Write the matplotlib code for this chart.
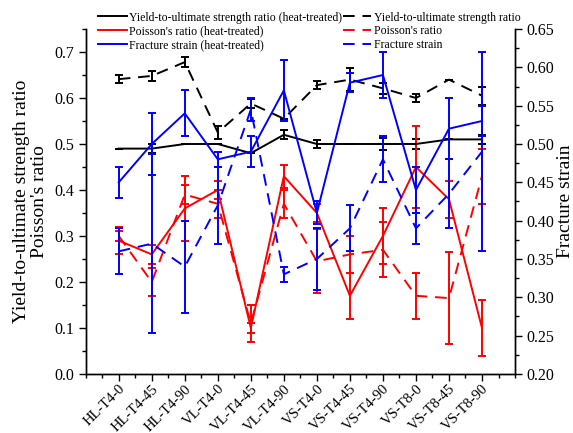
import matplotlib
matplotlib.use('Agg')
from matplotlib import pyplot as plt
from matplotlib.lines import Line2D
from matplotlib.ticker import MultipleLocator
import numpy as np

plt.rcParams['font.family'] = ['Liberation Serif', 'DejaVu Serif']

categories = ['HL-T4-0', 'HL-T4-45', 'HL-T4-90', 'VL-T4-0', 'VL-T4-45', 'VL-T4-90',
              'VS-T4-0', 'VS-T4-45', 'VS-T4-90', 'VS-T8-0', 'VS-T8-45', 'VS-T8-90']

# yield-to-ultimate strength ratio
yr_ht = [0.49, 0.49, 0.50, 0.50, 0.48, 0.52, 0.50, 0.50, 0.50, 0.50, 0.51, 0.51]
yr_ht_err = [0.0, 0.01, 0.0, 0.0, 0.0, 0.01, 0.009, 0.0, 0.012, 0.01, 0.0, 0.01]
yr_ab = [0.641, 0.648, 0.678, 0.525, 0.588, 0.555, 0.628, 0.64, 0.621, 0.60, 0.64, 0.605]
yr_ab_err = [0.008, 0.01, 0.011, 0.015, 0.01, 0.0, 0.009, 0.025, 0.012, 0.008, 0.0, 0.02]

# Poisson's ratio
pr_ht = [0.29, 0.26, 0.36, 0.40, 0.10, 0.43, 0.35, 0.17, 0.30, 0.45, 0.38, 0.10]
pr_ht_err = [0.03, 0.02, 0.07, 0.02, 0.01, 0.025, 0.02, 0.05, 0.06, 0.09, 0.04, 0.06]
pr_ab = [0.30, 0.20, 0.39, 0.37, 0.11, 0.37, 0.245, 0.26, 0.27, 0.17, 0.165, 0.43]
pr_ab_err = [0.01, 0.03, 0.02, 0.03, 0.04, 0.03, 0.07, 0.04, 0.06, 0.05, 0.10, 0.06]

# fracture strain (right axis)
fs_ht = [0.45, 0.50, 0.54, 0.48, 0.49, 0.57, 0.41, 0.58, 0.59, 0.44, 0.52, 0.53]
fs_ht_err = [0.02, 0.04, 0.03, 0.01, 0.02, 0.04, 0.015, 0.012, 0.03, 0.03, 0.04, 0.02]
fs_ab = [0.36, 0.37, 0.34, 0.42, 0.545, 0.33, 0.35, 0.39, 0.48, 0.39, 0.435, 0.49]
fs_ab_err = [0.03, 0.117, 0.06, 0.05, 0.015, 0.01, 0.04, 0.03, 0.03, 0.02, 0.045, 0.13]

x = np.arange(1, len(categories) + 1)
lw = 1.4
dash = (6, 4)

fig = plt.figure(figsize=(5.73, 4.33), dpi=100)
ax = fig.add_axes([0.1496, 0.1363, 0.7492, 0.7967])
ax2 = ax.twinx()

ekw = dict(capsize=3, elinewidth=lw, capthick=lw)
ax.errorbar(x, yr_ht, yerr=yr_ht_err, color='black', lw=lw, **ekw)
ax.errorbar(x, yr_ab, yerr=yr_ab_err, color='black', lw=lw, dashes=dash, **ekw)
ax.errorbar(x, pr_ht, yerr=pr_ht_err, color='red', lw=lw, **ekw)
ax.errorbar(x, pr_ab, yerr=pr_ab_err, color='red', lw=lw, dashes=dash, **ekw)
ax2.errorbar(x, fs_ht, yerr=fs_ht_err, color='blue', lw=lw, **ekw)
ax2.errorbar(x, fs_ab, yerr=fs_ab_err, color='blue', lw=lw, dashes=dash, **ekw)

ax.set_xlim(0, 13)
ax.set_ylim(0, 0.75)
ax2.set_ylim(0.2, 0.65)

ax.set_xticks(x)
ax.set_xticklabels(categories, rotation=45, ha='right', rotation_mode='anchor')
ax.xaxis.set_minor_locator(MultipleLocator(0.5))
ax.yaxis.set_minor_locator(MultipleLocator(0.05))
ax2.yaxis.set_minor_locator(MultipleLocator(0.025))
ax.set_yticks(np.arange(0, 0.71, 0.1))
ax.set_yticklabels(['%.1f' % v for v in np.arange(0, 0.71, 0.1)])
ax2.set_yticks(np.arange(0.2, 0.651, 0.05))
ax2.set_yticklabels(['%.2f' % v for v in np.arange(0.2, 0.651, 0.05)])

for a in (ax, ax2):
    a.tick_params(which='major', direction='out', length=5, width=1, labelsize=11.5)
    a.tick_params(which='minor', direction='out', length=3, width=1)
    a.spines['top'].set_visible(False)
    for s in ('left', 'right', 'bottom'):
        a.spines[s].set_linewidth(1)
ax.tick_params(axis='x', labelsize=10.5, pad=1)

ax.set_ylabel("Yield-to-ultimate strength ratio\nPoisson's ratio", fontsize=14,
              linespacing=1.1)
ax.yaxis.set_label_coords(-0.088, 0.5)
ax2.set_ylabel('Fracture strain', fontsize=14, rotation=90)
ax2.yaxis.set_label_coords(1.098, 0.5)

handles = [
    Line2D([], [], color='black', lw=lw),
    Line2D([], [], color='red', lw=lw),
    Line2D([], [], color='blue', lw=lw),
    Line2D([], [], color='black', lw=lw, dashes=dash),
    Line2D([], [], color='red', lw=lw, dashes=dash),
    Line2D([], [], color='blue', lw=lw, dashes=dash),
]
labels = ['Yield-to-ultimate strength ratio (heat-treated)',
          "Poisson's ratio (heat-treated)",
          'Fracture strain (heat-treated)',
          'Yield-to-ultimate strength ratio',
          "Poisson's ratio",
          'Fracture strain']
fig.legend(handles, labels, ncol=2, frameon=False, fontsize=8.5,
           loc='upper left', bbox_to_anchor=(0.155, 0.995),
           handlelength=2.4, handletextpad=0.2, columnspacing=0.1,
           labelspacing=0.15, borderaxespad=0.4)

fig.savefig('out.png', dpi=100)
